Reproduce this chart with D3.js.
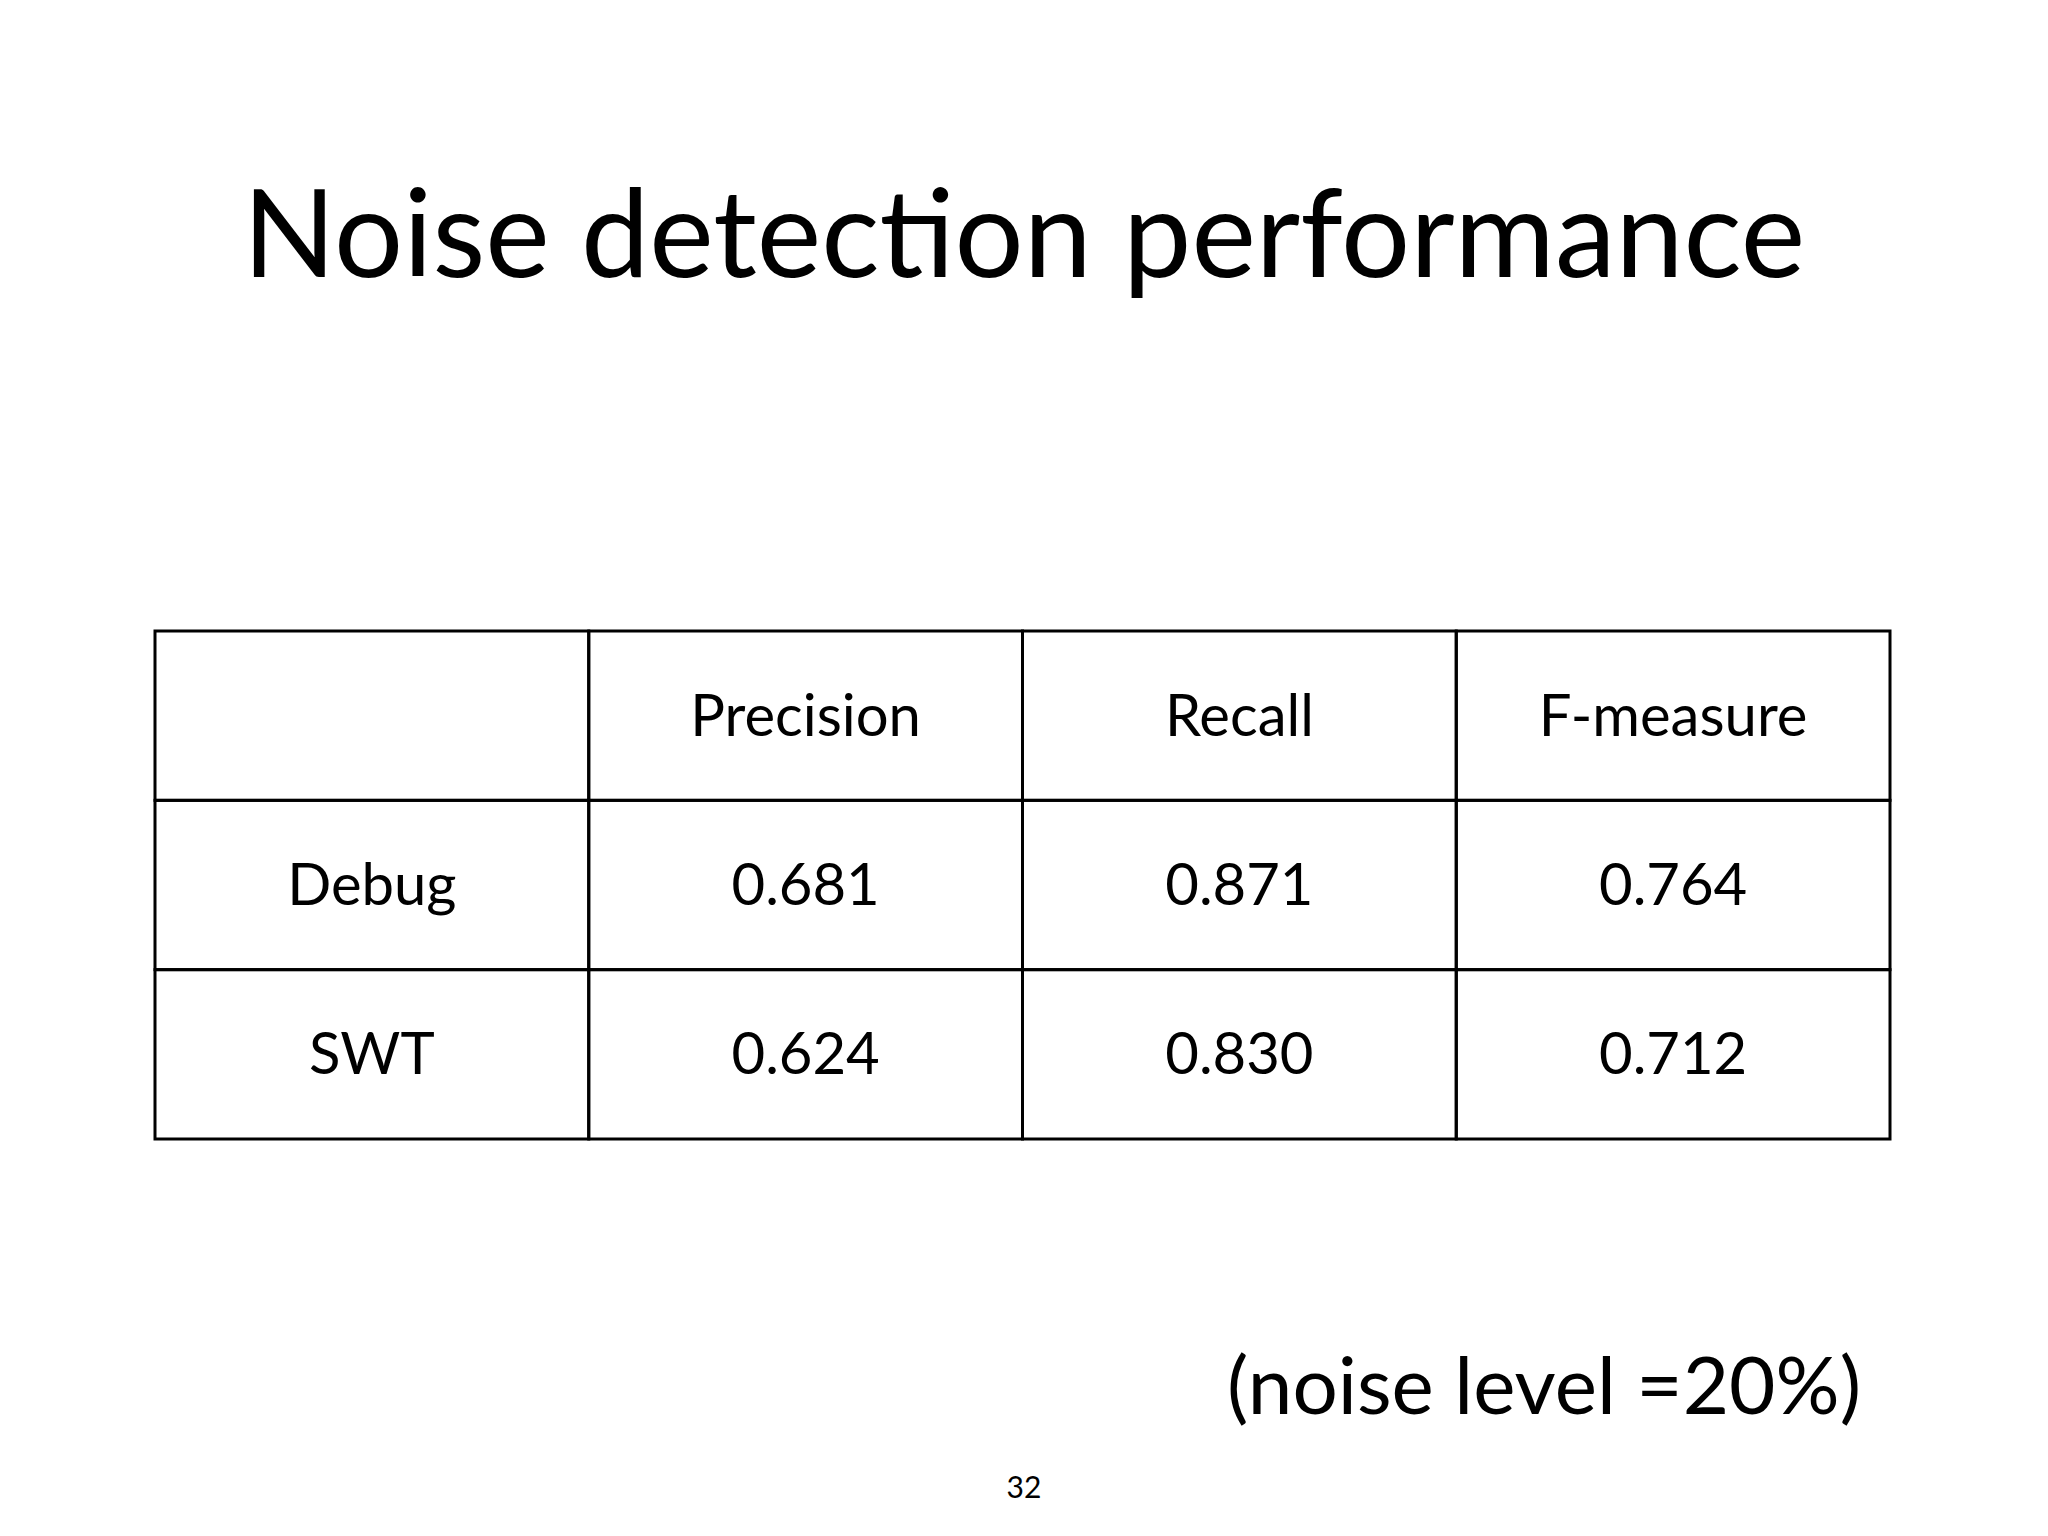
<!DOCTYPE html>
<html><head><meta charset="utf-8">
<script src="https://cdn.jsdelivr.net/npm/d3@7"></script>
<style>body{margin:0;background:#fff}</style></head>
<body><svg id="c" width="2048" height="1536"></svg>
<script>
const title = "Noise detection performance";
const columns = ["", "Precision", "Recall", "F-measure"];
const rowLabels = ["Debug", "SWT"];
const precision = ["0.681", "0.624"];
const recall = ["0.871", "0.830"];
const fmeasure = ["0.764", "0.712"];
const note = "(noise level =20%)";
const pageNum = "32";

const svg = d3.select("#c");
const font = "Lato, 'Open Sans', sans-serif";
svg.append("rect").attr("width",2048).attr("height",1536).attr("fill","#fff");
svg.append("text").attr("x",1024).attr("y",277).attr("text-anchor","middle")
  .attr("font-family",font).attr("font-size",122).attr("fill","#000").text(title);

const rows = [columns, ...rowLabels.map((r,i)=>[r, precision[i], recall[i], fmeasure[i]])];
const x = d3.scaleBand().domain(d3.range(4)).range([155,1890]);
const y = d3.scaleBand().domain(d3.range(3)).range([631,1139]);
const g = svg.append("g");
rows.forEach((row,ri)=>row.forEach((cell,ci)=>{
  g.append("rect").attr("x",x(ci)).attr("y",y(ri)).attr("width",x.bandwidth()).attr("height",y.bandwidth())
    .attr("fill","none").attr("stroke","#000").attr("stroke-width",3);
  g.append("text").attr("x",x(ci)+x.bandwidth()/2).attr("y",y(ri)+y.bandwidth()/2+20)
    .attr("text-anchor","middle").attr("font-family",font).attr("font-size",58).attr("fill","#000").text(cell);
}));
svg.append("text").attr("x",1861).attr("y",1414).attr("text-anchor","end")
  .attr("font-family",font).attr("font-size",80).attr("fill","#000").text(note);
svg.append("text").attr("x",1024).attr("y",1498).attr("text-anchor","middle")
  .attr("font-family",font).attr("font-size",30).attr("fill","#000").text(pageNum);
</script></body></html>
